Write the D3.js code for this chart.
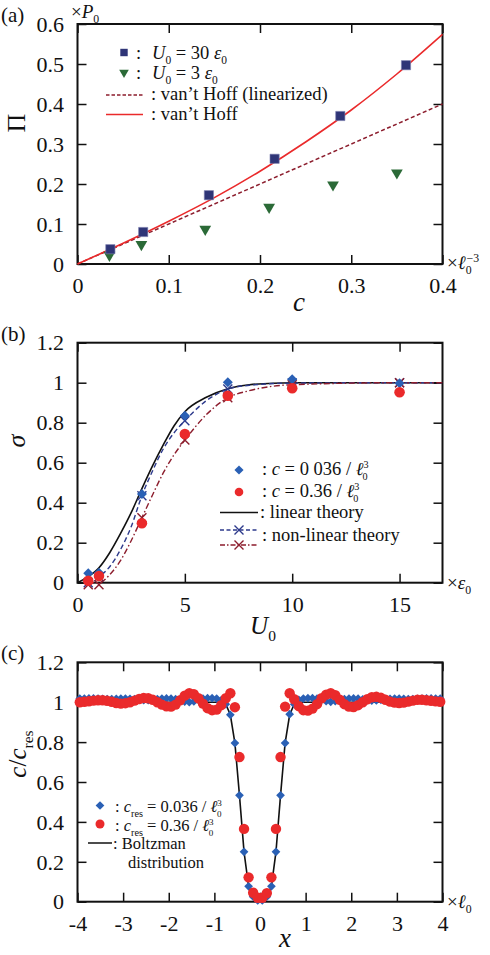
<!DOCTYPE html>
<html><head><meta charset="utf-8">
<script src="https://cdn.jsdelivr.net/npm/d3@7"></script>
<style>
body{margin:0;background:#fff}
svg{display:block}
svg text{font-family:"Liberation Serif","Times New Roman",Times,"DejaVu Serif",serif;fill:#111}
</style>
</head><body>
<script>
// ---------- Panel (a) data ----------
const cU30 = [0.036, 0.072, 0.144, 0.216, 0.288, 0.36];
const piU30 = [0.037, 0.080, 0.172, 0.263, 0.370, 0.497];
const cU3 = [0.035, 0.07, 0.14, 0.21, 0.28, 0.35];
const piU3 = [0.022, 0.049, 0.087, 0.142, 0.198, 0.228];
const cVH = [0, 0.05, 0.1, 0.15, 0.2, 0.25, 0.3, 0.35, 0.4];
const piVH = [0, 0.052, 0.107, 0.166, 0.232, 0.305, 0.385, 0.475, 0.574];
const cLin = [0, 0.4];
const piLin = [0, 0.4];
const aXTicks = [0, 0.1, 0.2, 0.3, 0.4];
const aXLabels = ["0", "0.1", "0.2", "0.3", "0.4"];
const aYTicks = [0, 0.1, 0.2, 0.3, 0.4, 0.5, 0.6];
const aYLabels = ["0", "0.1", "0.2", "0.3", "0.4", "0.5", "0.6"];

// ---------- Panel (b) data ----------
const U0pts = [0.5, 1, 3, 5, 7, 10, 15];
const sigLow = [0.047, 0.05, 0.443, 0.835, 1.002, 1.017, 0.997];
const sigHigh = [0.01, 0.033, 0.297, 0.743, 0.935, 0.972, 0.952];
const Ulin = [0, 0.5, 1, 1.5, 2, 2.5, 3, 3.5, 4, 4.5, 5, 6, 7, 8, 10, 17];
const sigLin = [0, 0.03, 0.075, 0.15, 0.245, 0.35, 0.47, 0.585, 0.69, 0.785, 0.855, 0.927, 0.97, 0.99, 1.0, 1.0];
const Unl = [0.5, 1, 1.5, 2, 2.5, 3, 3.5, 4, 4.5, 5, 6, 7, 8, 10, 15, 17];
const sigNlLow = [0, 0.03, 0.08, 0.165, 0.28, 0.435, 0.56, 0.67, 0.75, 0.81, 0.91, 0.968, 0.987, 0.998, 1.0, 1.0];
const sigNlHigh = [0, 0, 0.04, 0.11, 0.21, 0.325, 0.44, 0.55, 0.64, 0.713, 0.84, 0.925, 0.96, 0.99, 1.0, 1.0];
const Ucross = [0.5, 1, 3, 5, 7, 10, 15];
const crossLow = [0, 0.03, 0.435, 0.81, 0.968, 0.998, 1.0];
const crossHigh = [-0.01, -0.01, 0.325, 0.713, 0.925, 0.99, 1.0];
const bXTicks = [0, 5, 10, 15];
const bXLabels = ["0", "5", "10", "15"];
const bYTicks = [0, 0.2, 0.4, 0.6, 0.8, 1.0, 1.2];
const bYLabels = ["0", "0.2", "0.4", "0.6", "0.8", "1", "1.2"];

// ---------- Panel (c) data ----------
const xGrid = [-3.95,-3.85,-3.75,-3.65,-3.55,-3.45,-3.35,-3.25,-3.15,-3.05,
  -2.95,-2.85,-2.75,-2.65,-2.55,-2.45,-2.35,-2.25,-2.15,-2.05,
  -1.95,-1.85,-1.75,-1.65,-1.55,-1.45,-1.35,-1.25,-1.15,-1.05,
  -0.95,-0.85,-0.75,-0.65,-0.55,-0.45,-0.35,-0.25,-0.15,-0.05,
  0.05,0.15,0.25,0.35,0.45,0.55,0.65,0.75,0.85,0.95,
  1.05,1.15,1.25,1.35,1.45,1.55,1.65,1.75,1.85,1.95,
  2.05,2.15,2.25,2.35,2.45,2.55,2.65,2.75,2.85,2.95,
  3.05,3.15,3.25,3.35,3.45,3.55,3.65,3.75,3.85,3.95];
const cLowRes = [1.018,1.018,1.019,1.019,1.018,1.017,1.016,1.016,1.017,1.018,
  1.018,1.017,1.015,1.012,1.010,1.010,1.012,1.015,1.018,1.019,
  1.018,1.015,1.010,1.003,1.000,1.004,1.012,1.018,1.020,1.020,
  1.018,1.010,0.990,0.937,0.795,0.533,0.250,0.077,0.025,0.006,
  0.006,0.025,0.077,0.250,0.533,0.795,0.940,0.990,1.012,1.018,
  1.020,1.020,1.018,1.012,1.005,1.002,1.005,1.012,1.016,1.018,
  1.019,1.018,1.014,1.010,1.008,1.009,1.012,1.015,1.017,1.018,
  1.018,1.017,1.016,1.016,1.017,1.018,1.019,1.019,1.018,1.018];
const cHighRes = [1.000,1.002,1.005,1.008,1.010,1.010,1.007,1.002,0.996,0.993,
  0.995,1.000,1.008,1.016,1.021,1.020,1.012,1.000,0.988,0.979,
  0.978,0.988,1.010,1.033,1.045,1.040,1.020,0.993,0.970,0.960,
  0.963,0.985,1.020,1.045,0.975,0.725,0.365,0.122,0.045,0.020,
  0.020,0.043,0.122,0.365,0.725,0.978,1.045,1.015,0.980,0.960,
  0.958,0.968,0.990,1.020,1.038,1.045,1.035,1.012,0.990,0.978,
  0.976,0.985,1.000,1.015,1.025,1.027,1.022,1.012,1.003,0.998,
  0.996,0.998,1.003,1.008,1.012,1.012,1.010,1.007,1.004,1.002];
const xBoltz = [-4,-0.85,-0.75,-0.65,-0.55,-0.45,-0.35,-0.25,-0.15,-0.05,0.05,0.15,0.25,0.35,0.45,0.55,0.65,0.75,0.85,4];
const cBoltz = [1,1,0.99,0.937,0.795,0.533,0.25,0.077,0.022,0.005,0.005,0.022,0.077,0.25,0.533,0.795,0.937,0.99,1,1];
const cXTicks = [-4,-3,-2,-1,0,1,2,3,4];
const cXLabels = ["-4","-3","-2","-1","0","1","2","3","4"];

// ---------- colours ----------
const NAVY = "#2f3577", GREEN = "#2b6a37", DRED = "#8c1d2d", RED = "#ea2a2b",
      BLUE = "#2a60b5", NAVYLINE = "#2d3a8c", BLACK = "#111";
const SERIF = '"Liberation Serif","Times New Roman",Times,"DejaVu Serif",serif';

const W = 490, H = 955, X0 = 77.5, X1 = 442.5, TICK = 9, FS = 22;
const svg = d3.select("body").append("svg").attr("width", W).attr("height", H)
  .attr("font-family", SERIF);

function rich(parent, x, y, size, parts, anchor, transform) {
  const t = parent.append("text").attr("x", x).attr("y", y)
    .attr("font-size", size).attr("font-family", SERIF).attr("text-anchor", anchor || "start");
  if (transform) t.attr("transform", transform);
  let shift = 0;
  parts.forEach(p => {
    const s = typeof p === "string" ? p : p[0];
    const st = typeof p === "string" ? {} : (p[1] || {});
    const target = st.sub ? size * 0.28 : st.sup ? -size * 0.38 : 0;
    const ts = t.append("tspan").text(s).attr("dy", target - shift);
    shift = target;
    if (st.sub || st.sup) ts.attr("font-size", size * (st.fs || 0.62));
    if (st.i) ts.attr("font-style", "italic");
    if (st.dx != null) ts.attr("dx", st.dx);
  });
  return t;
}

function panel(top, bottom, xDom, yDom, xT, xL, yT, yL) {
  const x = d3.scaleLinear().domain(xDom).range([X0, X1]);
  const y = d3.scaleLinear().domain(yDom).range([bottom, top]);
  const g = svg.append("g");
  const style = sel => {
    sel.attr("font-family", SERIF);
    sel.select(".domain").remove();
    sel.selectAll(".tick line").attr("stroke", BLACK).attr("stroke-width", 1.5);
    sel.selectAll("text").attr("font-size", FS).attr("font-family", SERIF).attr("fill", BLACK);
  };
  g.append("g").attr("transform", `translate(0,${bottom})`)
    .call(d3.axisBottom(x).tickValues(xT).tickSize(-TICK).tickFormat((d, i) => xL[i]))
    .call(style).call(s => s.selectAll("text").attr("y", 29).attr("dy", null));
  g.append("g").attr("transform", `translate(0,${top})`)
    .call(d3.axisTop(x).tickValues(xT).tickSize(-TICK).tickFormat("")).call(style);
  g.append("g").attr("transform", `translate(${X0},0)`)
    .call(d3.axisLeft(y).tickValues(yT).tickSize(-TICK).tickFormat((d, i) => yL[i]))
    .call(style).call(s => s.selectAll("text").attr("x", -13.5).attr("dy", "0.33em"));
  g.append("g").attr("transform", `translate(${X1},0)`)
    .call(d3.axisRight(y).tickValues(yT).tickSize(-TICK).tickFormat("")).call(style);
  g.append("rect").attr("x", X0).attr("y", top).attr("width", X1 - X0).attr("height", bottom - top)
    .attr("fill", "none").attr("stroke", BLACK).attr("stroke-width", 2);
  return { x, y, g };
}

const sq = d3.symbol().type(d3.symbolSquare).size(85);
const tri = d3.symbol().type(d3.symbolTriangle).size(60);
const diaB = d3.symbol().type(d3.symbolSquare).size(50);
const diaC = d3.symbol().type(d3.symbolSquare).size(38);
function cross(g, cx, cy, r, color) {
  g.append("path").attr("d", `M${cx - r},${cy - r}L${cx + r},${cy + r}M${cx - r},${cy + r}L${cx + r},${cy - r}`)
    .attr("stroke", color).attr("stroke-width", 1.4).attr("fill", "none");
}

// =================== Panel (a) ===================
{
  const P = panel(24, 264, [0, 0.4], [0, 0.6], aXTicks, aXLabels, aYTicks, aYLabels);
  const { x, y, g } = P;
  const line = d3.line();
  g.append("path").attr("d", line(cLin.map((c, i) => [x(c), y(piLin[i])])))
    .attr("fill", "none").attr("stroke", DRED).attr("stroke-width", 1.5).attr("stroke-dasharray", "4,2.5");
  g.append("path").attr("d", d3.line().curve(d3.curveMonotoneX)(cVH.map((c, i) => [x(c), y(piVH[i])])))
    .attr("fill", "none").attr("stroke", RED).attr("stroke-width", 1.6);
  g.selectAll(".tri").data(cU3).enter().append("path")
    .attr("transform", (c, i) => `translate(${x(c)},${y(piU3[i])}) rotate(180)`)
    .attr("d", tri).attr("fill", GREEN);
  g.selectAll(".sq").data(cU30).enter().append("path")
    .attr("transform", (c, i) => `translate(${x(c)},${y(piU30[i])})`)
    .attr("d", sq).attr("fill", NAVY).attr("stroke", "#7c80b0").attr("stroke-width", 0.6);
  // legend
  g.append("path").attr("transform", "translate(124,52.5)").attr("d", d3.symbol().type(d3.symbolSquare).size(55)).attr("fill", NAVY);
  g.append("path").attr("transform", "translate(124,72.5) rotate(180)").attr("d", d3.symbol().type(d3.symbolTriangle).size(40)).attr("fill", GREEN);
  rich(g, 136, 59, 18.5, [":"]);
  rich(g, 136, 79, 18.5, [":"]);
  rich(g, 152, 59, 18.5, [["U", { i: 1 }], ["0", { sub: 1 }], " = 30 ", ["ε", { i: 1 }], ["0", { sub: 1 }]]);
  rich(g, 152, 79, 18.5, [["U", { i: 1 }], ["0", { sub: 1 }], " = 3 ", ["ε", { i: 1 }], ["0", { sub: 1 }]]);
  g.append("line").attr("x1", 106).attr("x2", 143).attr("y1", 95).attr("y2", 95)
    .attr("stroke", DRED).attr("stroke-width", 1.3).attr("stroke-dasharray", "3.5,2");
  g.append("line").attr("x1", 106).attr("x2", 143).attr("y1", 114.5).attr("y2", 114.5)
    .attr("stroke", RED).attr("stroke-width", 1.5);
  rich(g, 151, 100, 18.5, [": van’t Hoff (linearized)"]);
  rich(g, 151, 120, 18.5, [": van’t Hoff"]);
  // labels
  rich(svg, 1, 22, 21, ["(a)"]);
  rich(svg, 71, 18, 19, ["×", ["P", { i: 1 }], ["0", { sub: 1 }]]);
  rich(svg, 447, 269, 19, ["×", ["ℓ", { i: 1 }], ["0", { sub: 1 }], ["−3", { sup: 1, dx: -5 }]]);
  rich(svg, 299, 311, 27, [["c", { i: 1 }]], "middle");
  rich(svg, 0, 0, 26, ["Π"], "middle", "translate(25,123) rotate(-90)");
}

// =================== Panel (b) ===================
{
  const P = panel(342.7, 582.7, [0, 17], [0, 1.2], bXTicks, bXLabels, bYTicks, bYLabels);
  const { x, y, g } = P;
  const mk = (xs, ys) => d3.line().curve(d3.curveMonotoneX)(xs.map((u, i) => [x(u), y(ys[i])]));
  g.append("path").attr("d", mk(Ulin, sigLin)).attr("fill", "none").attr("stroke", BLACK).attr("stroke-width", 1.6);
  g.append("path").attr("d", mk(Unl, sigNlLow)).attr("fill", "none").attr("stroke", NAVYLINE)
    .attr("stroke-width", 1.4).attr("stroke-dasharray", "5,3");
  g.append("path").attr("d", mk(Unl, sigNlHigh)).attr("fill", "none").attr("stroke", DRED)
    .attr("stroke-width", 1.4).attr("stroke-dasharray", "6,2.5,1.5,2.5");
  Ucross.forEach((u, i) => cross(g, x(u), y(crossLow[i]), 4.5, NAVYLINE));
  Ucross.forEach((u, i) => cross(g, x(u), y(crossHigh[i]), 4.5, DRED));
  g.selectAll(".dia").data(U0pts).enter().append("path")
    .attr("transform", (u, i) => `translate(${x(u)},${y(sigLow[i])}) rotate(45)`).attr("d", diaB).attr("fill", BLUE);
  g.selectAll(".cir").data(U0pts).enter().append("circle")
    .attr("cx", u => x(u)).attr("cy", (u, i) => y(sigHigh[i])).attr("r", 5.3).attr("fill", RED);
  // legend
  g.append("path").attr("transform", "translate(239,470) rotate(45)").attr("d", d3.symbol().type(d3.symbolSquare).size(42)).attr("fill", BLUE);
  g.append("circle").attr("cx", 239).attr("cy", 492).attr("r", 4.3).attr("fill", RED);
  rich(g, 262, 475, 18.5, [": ", ["c", { i: 1 }], " = 0 036 / ", ["ℓ", { i: 1 }], ["3", { sup: 1, fs: 0.55 }], ["0", { sub: 1, dx: -6, fs: 0.55 }]]);
  rich(g, 262, 497, 18.5, [": ", ["c", { i: 1 }], " = 0.36 / ", ["ℓ", { i: 1 }], ["3", { sup: 1, fs: 0.55 }], ["0", { sub: 1, dx: -6, fs: 0.55 }]]);
  g.append("line").attr("x1", 220).attr("x2", 258).attr("y1", 512.5).attr("y2", 512.5).attr("stroke", BLACK).attr("stroke-width", 1.5);
  rich(g, 260, 518, 18.5, [": linear theory"]);
  g.append("line").attr("x1", 220).attr("x2", 258).attr("y1", 530).attr("y2", 530).attr("stroke", NAVYLINE)
    .attr("stroke-width", 1.3).attr("stroke-dasharray", "4,2.5");
  cross(g, 239, 530, 4.5, NAVYLINE);
  g.append("line").attr("x1", 220).attr("x2", 258).attr("y1", 545).attr("y2", 545).attr("stroke", DRED)
    .attr("stroke-width", 1.3).attr("stroke-dasharray", "5,2,1.5,2");
  cross(g, 239, 545, 4.5, DRED);
  rich(g, 262, 541, 18.5, [": non-linear theory"]);
  // labels
  rich(svg, 1, 341, 21, ["(b)"]);
  rich(svg, 447, 589, 19, ["×", ["ε", { i: 1 }], ["0", { sub: 1 }]]);
  rich(svg, 263, 634, 25, [["U", { i: 1 }], ["0", { sub: 1 }]], "middle");
  rich(svg, 0, 0, 26, [["σ", { i: 1 }]], "middle", "translate(25,441) rotate(-90)");
}

// =================== Panel (c) ===================
{
  const P = panel(662.3, 901.7, [-4, 4], [0, 1.2], cXTicks, cXLabels, bYTicks, bYLabels);
  const { x, y, g } = P;
  g.append("path").attr("d", d3.line()(xBoltz.map((v, i) => [x(v), y(cBoltz[i])])))
    .attr("fill", "none").attr("stroke", BLACK).attr("stroke-width", 1.6);
  g.selectAll(".dia").data(xGrid).enter().append("path")
    .attr("transform", (v, i) => `translate(${x(v)},${y(cLowRes[i])}) rotate(45)`).attr("d", diaC).attr("fill", BLUE);
  g.selectAll(".cir").data(xGrid).enter().append("circle")
    .attr("cx", v => x(v)).attr("cy", (v, i) => y(cHighRes[i])).attr("r", 5.2).attr("fill", RED);
  // legend
  g.append("path").attr("transform", "translate(100,805.5) rotate(45)").attr("d", d3.symbol().type(d3.symbolSquare).size(38)).attr("fill", BLUE);
  g.append("circle").attr("cx", 100).attr("cy", 824).attr("r", 4.5).attr("fill", RED);
  rich(g, 115, 812, 16.5, [":  ", ["c", { i: 1 }], ["res", { sub: 1 }], " = 0.036 / ", ["ℓ", { i: 1 }], ["3", { sup: 1, fs: 0.55 }], ["0", { sub: 1, dx: -5, fs: 0.55 }]]);
  rich(g, 115, 831, 16.5, [":  ", ["c", { i: 1 }], ["res", { sub: 1 }], " = 0.36 / ", ["ℓ", { i: 1 }], ["3", { sup: 1, fs: 0.55 }], ["0", { sub: 1, dx: -5, fs: 0.55 }]]);
  g.append("line").attr("x1", 88).attr("x2", 112).attr("y1", 843).attr("y2", 843).attr("stroke", BLACK).attr("stroke-width", 1.5);
  rich(g, 113, 849, 16.5, [": Boltzman"]);
  rich(g, 128, 868, 16.5, ["distribution"]);
  // labels
  rich(svg, 1, 660, 21, ["(c)"]);
  rich(svg, 447, 908, 19, ["×", ["ℓ", { i: 1 }], ["0", { sub: 1 }]]);
  rich(svg, 285, 947, 27, [["x", { i: 1 }]], "middle");
  rich(svg, 0, 0, 25, [["c", { i: 1 }], "/", ["c", { i: 1 }], ["res", { sub: 1 }]], "middle", "translate(26,754) rotate(-90)");
}
</script>
</body></html>
